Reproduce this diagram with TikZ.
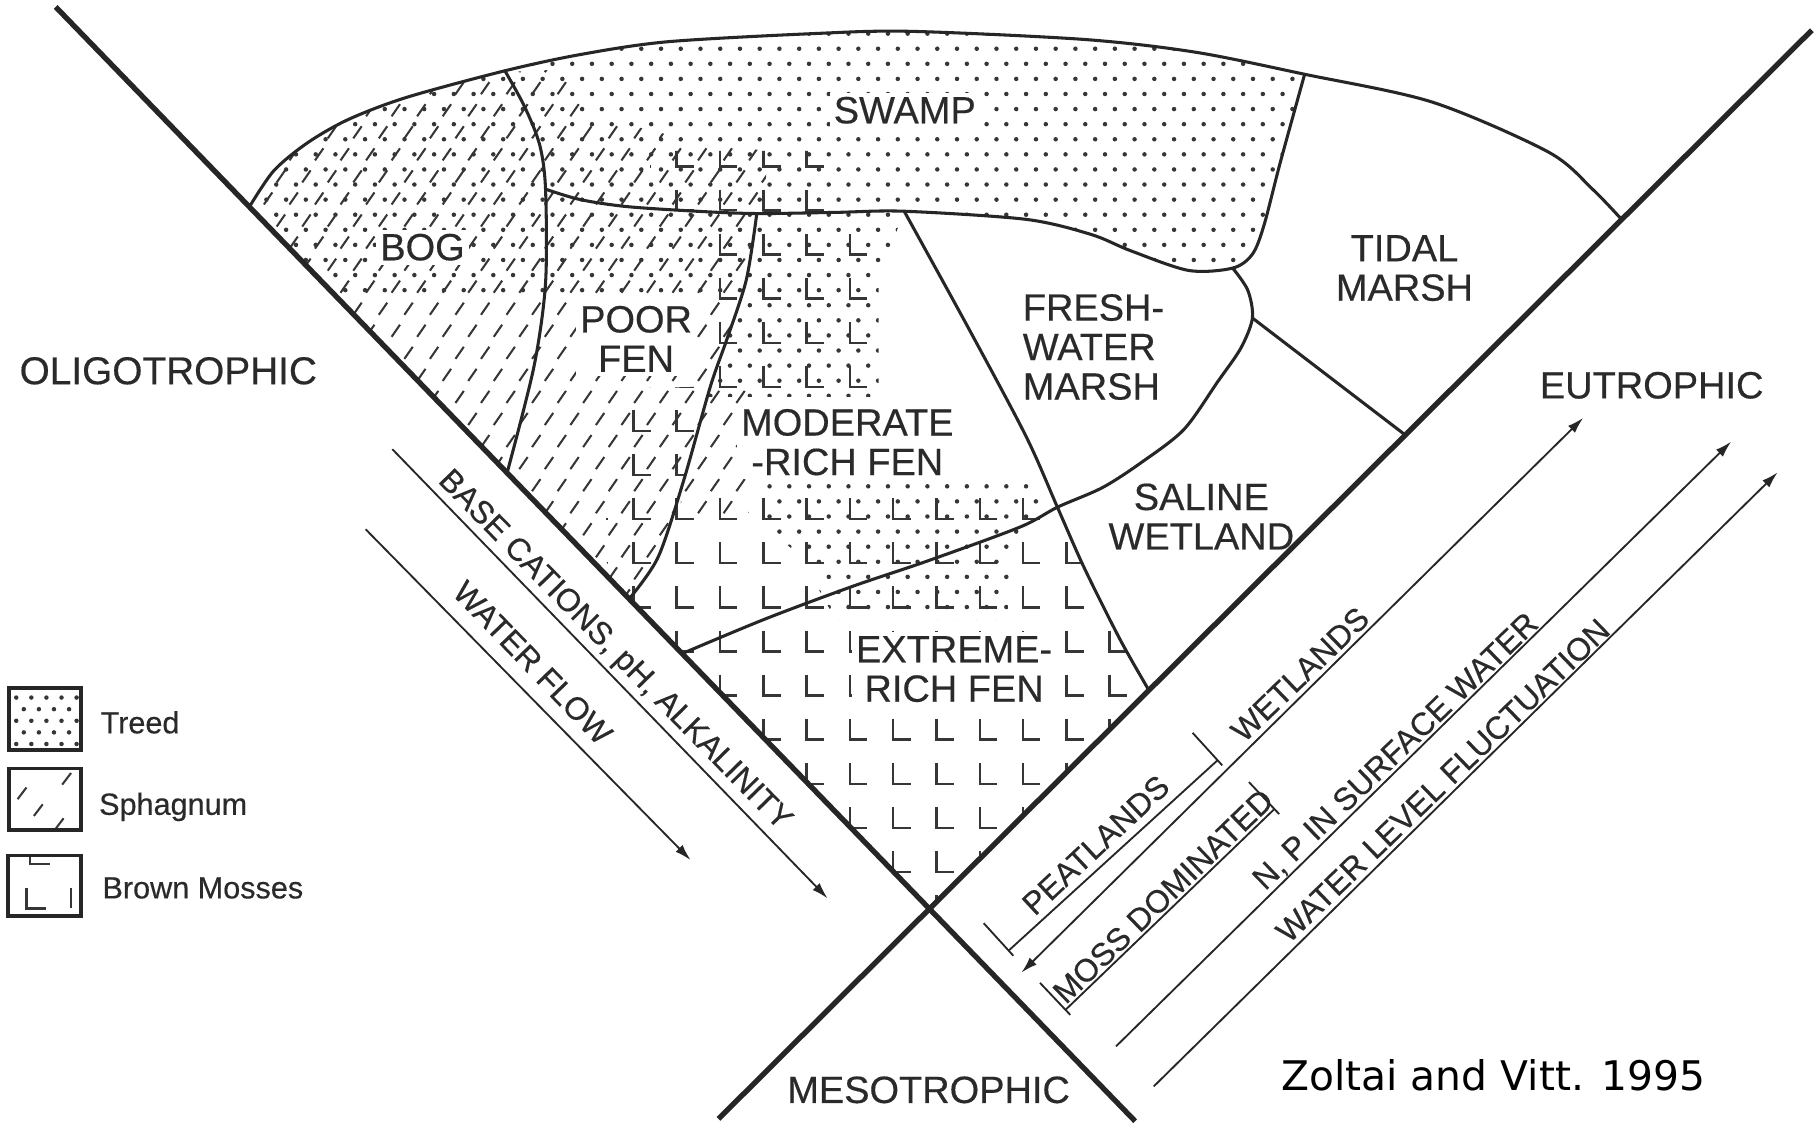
\documentclass[tikz,border=0pt]{standalone}
\usepackage{fontspec}
\setmainfont{Liberation Sans}
\newfontfamily\labfont[FakeBold=0.4]{Liberation Sans}
\newfontfamily\citefont{DejaVu Sans}
\usetikzlibrary{arrows.meta,calc}
\definecolor{ink}{HTML}{262626}
\definecolor{txt}{HTML}{2A2A2A}
\definecolor{patc}{HTML}{363636}
\newcommand\fontbig{\labfont\fontsize{9.3}{9.67}\selectfont}
\newcommand\fontrot{\labfont\fontsize{7.8}{8.2}\selectfont}
\newcommand\fontleg{\labfont\fontsize{7.5}{8}\selectfont}
\newcommand\fontcite{\fontsize{10}{12}\selectfont}
\newcommand\dotgrid[4]{\foreach \j in {#3,...,#4}{\foreach \i in {#1,...,#2}{\fill[patc] ({17*\i+8.5*mod(\j,2)},{13*\j+3}) circle[radius=0.55pt];}}}
\newcommand\sphgrid[4]{\foreach \j in {#3,...,#4}{\foreach \i in {#1,...,#2}{\draw[sphmark] ({22*\i+11*mod(\j,2)-3.6},{19*\j+5.2}) -- ++(7.2,-10.4);}}}
\newcommand\mossgrid[4]{\foreach \j in {#3,...,#4}{\foreach \i in {#1,...,#2}{\draw[mossmark] ({583+37.3*\i},{467.3+38*\j}) -- ++(0,18) -- ++(15,0);}}}
\begin{document}
\begin{tikzpicture}[x=0.01cm,y=-0.01cm,
  vline/.style={draw=ink,line width=1.3pt},
  bnd/.style={draw=ink,line width=0.75pt,line join=round},
  thinln/.style={draw=ink,line width=0.45pt},
  arr/.style={thinln,-{Latex[length=4pt,width=2.4pt]}},
  darr/.style={thinln,{Latex[length=4pt,width=2.4pt]}-{Latex[length=4pt,width=2.4pt]}},
  sphmark/.style={draw=patc,line width=0.5pt},
  mossmark/.style={draw=patc,line width=0.6pt},
  reglab/.style={font=\fontbig,text=txt,fill=white,inner sep=1pt,align=center},
  sidelab/.style={font=\fontbig,text=txt,inner sep=0pt},
  rotlab/.style={font=\fontrot,text=txt,inner sep=0pt},
  leglab/.style={font=\fontleg,text=txt,inner sep=0pt,anchor=base west},
  legbox/.style={draw=ink,line width=0.9pt}]

\fill[white] (0,0) rectangle (1568,971);
\useasboundingbox (0,0) rectangle (1568,971);

% ---------- key coordinates ----------
\coordinate (LT) at (48,6);   \coordinate (LB) at (978,966);
\coordinate (RT) at (1561,26); \coordinate (RB) at (619,964);
\coordinate (wf1) at (315,456); \coordinate (wf2) at (595,741);
\coordinate (bc1) at (338,387); \coordinate (bc2) at (713,774);
\coordinate (wd1) at (880,838); \coordinate (wd2) at (1364,360);
\coordinate (np1) at (961.5,901.5); \coordinate (np2) at (1491.5,380.5);
\coordinate (wl1) at (994,936); \coordinate (wl2) at (1531.5,407);
\coordinate (pt1) at (869,819); \coordinate (pt2) at (1049,655);
\coordinate (ms1) at (918,870); \coordinate (ms2) at (1098,697);

% ---------- treed (dots) ----------
\begin{scope}
\clip (215,178) -- (236,147) -- (265,123) -- (300,103) -- (350,84) -- (435,61) -- (500,47) -- (575,36) -- (700,29) -- (784,27) -- (934,34) -- (1030,45) -- (1124,64) -- (1103,140) -- (1089,194) -- (1079,219) -- (1062,231) -- (1024,233) -- (974,216) -- (940,202) -- (884,189) -- (779,182) -- (757,240) -- (757,342) -- (610,342) -- (626,293) -- (637,258) -- (292,258) -- cycle;
\dotgrid{12}{66}{1}{26}
\end{scope}
\begin{scope}
\clip (657,414) -- (895,414) -- (902,440) -- (872,470) -- (868,534) -- (720,534) -- (690,480) -- (657,450) -- cycle;
\dotgrid{38}{53}{31}{41}
\end{scope}

% ---------- sphagnum ----------
\begin{scope}
\clip (215,178) -- (236,147) -- (265,123) -- (300,103) -- (350,84) -- (435,61) -- (452,92) -- (465,125) -- (470,163) -- (500,172) -- (540,178) -- (600,182) -- (652,184) -- (643,241) -- (626,293) -- (612,333) -- (589,414) -- (567,480) -- (542,516) -- cycle;
\sphgrid{9}{30}{3}{28}
\end{scope}
\begin{scope}
\clip (437,62) -- (480,60) -- (510,100) -- (600,122) -- (660,130) -- (660,186) -- (600,182) -- (540,178) -- (500,172) -- (470,163) -- (465,125) -- (452,92) -- cycle;
\sphgrid{19}{30}{3}{10}
\end{scope}
\begin{scope}
\clip (612,333) -- (650,333) -- (645,445) -- (585,445) -- (589,414) -- cycle;
\sphgrid{26}{30}{17}{24}
\end{scope}

% ---------- brown mosses ----------
\begin{scope}
\clip (588,563) -- (660,533) -- (735,505) -- (800,483) -- (879,454) -- (911,437) -- (934,489) -- (965,551) -- (990,595) -- (801,783) -- cycle;
\mossgrid{0}{11}{-1}{8}
\end{scope}
\begin{scope}
\clip (589,414) -- (901,414) -- (911,437) -- (879,454) -- (800,483) -- (735,505) -- (660,533) -- (588,563) -- (542,516) -- (567,480) -- cycle;
\mossgrid{-2}{9}{-2}{3}
\end{scope}
\begin{scope}
\clip (600,190) -- (762,190) -- (762,345) -- (600,345) -- cycle;
\mossgrid{0}{4}{-8}{-3}
\end{scope}
\begin{scope}
\clip (530,335) -- (612,333) -- (589,414) -- (567,480) -- (542,516) -- (520,480) -- cycle;
\mossgrid{-2}{1}{-4}{1}
\end{scope}
\begin{scope}
\clip (560,130) -- (720,130) -- (720,184) -- (560,180) -- cycle;
\mossgrid{-1}{4}{-10}{-8}
\end{scope}

% ---------- region labels ----------
\node[reglab] (swamp) at (779.5,95) {SWAMP};
\node[reglab] (bog) at (364,213) {BOG};
\node[reglab] (poorfen) at (548,292) {POOR\\FEN};
\node[reglab] (modfen) at (730,381) {MODERATE\\-RICH FEN};
\node[reglab,align=left,anchor=west] (fresh) at (877,299) {FRESH-\\WATER\\MARSH};
\node[reglab] (tidal) at (1210,231) {TIDAL\\MARSH};
\node[reglab] (saline) at (1035,445) {SALINE\\WETLAND};
\node[reglab] (extreme) at (822,576.5) {EXTREME-\\RICH FEN};

\node[sidelab,font=\labfont\fontsize{9.5}{10}\selectfont] (oligo) at (145,319.5) {OLIGOTROPHIC};
\node[sidelab] (eutro) at (1423,332) {EUTROPHIC};
\node[sidelab] (meso) at (800,939) {MESOTROPHIC};

% ---------- boundaries ----------
\draw[bnd] plot[smooth] coordinates {(215,178) (236,147) (265,123) (300,103) (350,84) (435,61) (500,47) (575,36) (700,29) (784,27) (934,34) (1030,45) (1124,64) (1234,88) (1334,131) (1372,163) (1397,189)};
\draw[bnd] plot[smooth] coordinates {(435,61) (452,92) (465,125) (470,163) (470,244) (460,316) (437,407)};
\draw[bnd] plot[smooth] coordinates {(470,163) (500,172) (540,178) (600,182) (652,184) (720,183) (779,182) (884,189) (940,202) (974,216) (1024,233) (1062,231) (1079,219) (1089,194) (1103,140) (1124,64)};
\draw[bnd] plot[smooth] coordinates {(652,184) (643,241) (626,293) (612,333) (589,414) (567,480) (542,516)};
\draw[bnd] plot[smooth] coordinates {(779,182) (834,282) (884,376) (911,437) (934,489) (965,551) (990,595)};
\draw[bnd] plot[smooth] coordinates {(588,563) (660,533) (735,505) (800,483) (879,454) (911,437) (950,420) (984,398) (1020,370) (1049,329) (1069,300) (1079,274) (1075,250) (1062,231)};
\draw[bnd] (1079,274) -- (1211,375);

% ---------- main lines ----------
\draw[vline] (LT) -- (LB);
\draw[vline] (RT) -- (RB);

% ---------- gradient arrows ----------
\draw[arr] (wf1) -- (wf2);
\draw[arr] (bc1) -- (bc2);
\draw[darr] (wd1) -- (wd2);
\draw[arr] (np1) -- (np2);
\draw[arr] (wl1) -- (wl2);

% brackets
\draw[thinln] (pt1) -- (pt2);
\draw[thinln] (847.5,795.4) -- (873,823.4);
\draw[thinln] (1027.5,631.4) -- (1053,659.4);
\draw[thinln] (ms1) -- (ms2);
\draw[thinln] (896,846.8) -- (922.1,874.4);
\draw[thinln] (1076,673.8) -- (1102.1,701.4);

% rotated labels
\node[rotlab,rotate=-45.6] (base) at (529,561) {BASE CATIONS, pH, ALKALINITY};
\node[rotlab,rotate=-46] (wflow) at (459,571) {WATER FLOW};
\node[rotlab,rotate=43] (peat) at (944,728) {PEATLANDS};
\node[rotlab,rotate=44] (wet) at (1120,581) {WETLANDS};
\node[rotlab,rotate=44] (moss) at (1002,772) {MOSS DOMINATED};
\node[rotlab,rotate=44] (np) at (1203,648) {N, P IN SURFACE WATER};
\node[rotlab,rotate=44] (wlf) at (1243,672.5) {WATER LEVEL FLUCTUATION};

% ---------- legend ----------
\begin{scope}
\clip (8,593) rectangle (70,646);
\foreach \j in {0,...,4}{\foreach \i in {0,...,4}{\fill[patc] ({14+13*\i+6.5*mod(\j,2)},{601+10*\j}) circle[radius=0.55pt];}}
\end{scope}
\draw[legbox] (8,593) rectangle (70,646);
\begin{scope}
\clip (8,662) rectangle (70,715);
\foreach \cx/\cy in {19/683.5, 33/698, 57.4/671, 51/710}{\draw[sphmark] (\cx-3.8,\cy+5) -- (\cx+3.8,\cy-5);}
\end{scope}
\draw[legbox] (8,662) rectangle (70,715);
\begin{scope}
\clip (7,737) rectangle (69.5,789);
\draw[mossmark] (23,765) -- (23,782.6) -- (40,782.6);
\draw[mossmark] (26,737) -- (26,744.6) -- (43,744.6);
\draw[mossmark] (61,765) -- (61,782.6);
\end{scope}
\draw[legbox] (7,737) rectangle (69.5,789);
\node[leglab] (treed) at (86,631.8) {Treed};
\node[leglab] (sphag) at (84.7,702) {Sphagnum};
\node[leglab] (brown) at (87.6,774) {Brown Mosses};

% citation
\node[font={\citefont\fontcite},text=black,inner sep=0pt] (cite) at (1286.5,926) {Zoltai and Vitt. 1995};
\end{tikzpicture}
\end{document}
